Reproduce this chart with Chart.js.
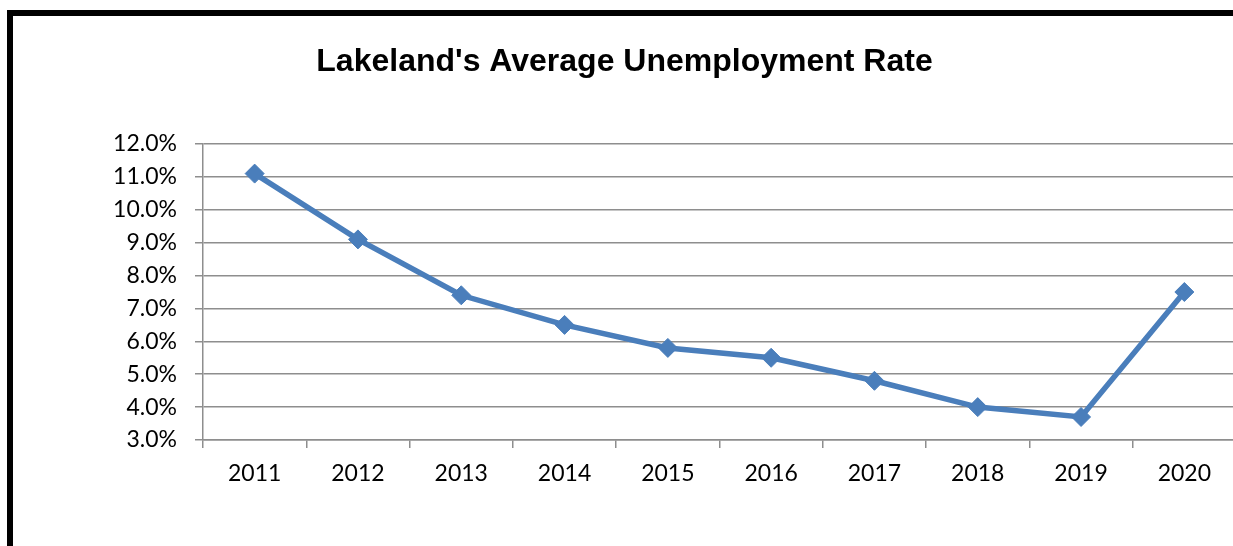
<!DOCTYPE html>
<html>
<head>
<meta charset="utf-8">
<script src="https://cdn.jsdelivr.net/npm/chart.js@4.4.0/dist/chart.umd.min.js"></script>
<style>
  html, body { margin: 0; padding: 0; width: 1233px; height: 546px; overflow: hidden; background: #fff; }
  #frame { position: absolute; left: 7px; top: 10px; width: 1400px; height: 800px;
           border-left: 6px solid #000; border-top: 6px solid #000; box-sizing: border-box; }
  #wrap { position: absolute; left: 0; top: 0; width: 1250px; height: 546px; }
</style>
</head>
<body>
<div id="frame"></div>
<div id="wrap"><canvas id="c"></canvas></div>
<script>
const years = ['2011','2012','2013','2014','2015','2016','2017','2018','2019','2020'];
const rates = [11.1, 9.1, 7.4, 6.5, 5.8, 5.5, 4.8, 4.0, 3.7, 7.5];
const chartTitle = "Lakeland's Average Unemployment Rate";
const yMin = 3, yMax = 12, yStep = 1;

const gridColor = '#8e8e8e';
const lineColor = '#4a7ebb';
const axisFont = { family: 'Lato, "Open Sans", sans-serif', size: 23 };

new Chart(document.getElementById('c'), {
  type: 'line',
  data: {
    labels: years,
    datasets: [{
      data: rates,
      borderColor: lineColor,
      backgroundColor: lineColor,
      borderWidth: 5.5,
      pointStyle: 'rectRot',
      pointRadius: 9.5,
      pointBorderWidth: 1,
      pointBorderColor: lineColor,
      pointBackgroundColor: lineColor,
      tension: 0,
      fill: false
    }]
  },
  options: {
    responsive: true,
    maintainAspectRatio: false,
    animation: false,
    devicePixelRatio: 1,
    layout: { padding: { left: 13, right: 14, top: 0, bottom: 0 } },
    plugins: {
      legend: { display: false },
      tooltip: { enabled: false },
      title: {
        display: true,
        text: chartTitle,
        color: '#000',
        font: { family: '"Liberation Sans", Arial, sans-serif', size: 32, weight: 'bold', lineHeight: 1.2 },
        padding: { top: 43, bottom: 62.6 }
      }
    },
    scales: {
      x: {
        type: 'category',
        offset: true,
        afterFit: (s) => { s.height = 106; },
        grid: { drawOnChartArea: false, drawTicks: true, tickLength: 8, color: gridColor, lineWidth: 1.5, offset: true },
        border: { display: true, color: gridColor, width: 1.5 },
        ticks: { color: '#000', font: axisFont, padding: 12, maxRotation: 0, autoSkip: false }
      },
      y: {
        min: yMin, max: yMax,
        afterFit: (s) => { s.width = 190; },
        grid: { color: gridColor, lineWidth: 1.5, tickLength: 8 },
        border: { display: true, color: gridColor, width: 1.5 },
        ticks: { stepSize: yStep, color: '#000', font: axisFont, padding: 18,
                 callback: (v) => Number(v).toFixed(1) + '%' }
      }
    }
  }
});
</script>
</body>
</html>
